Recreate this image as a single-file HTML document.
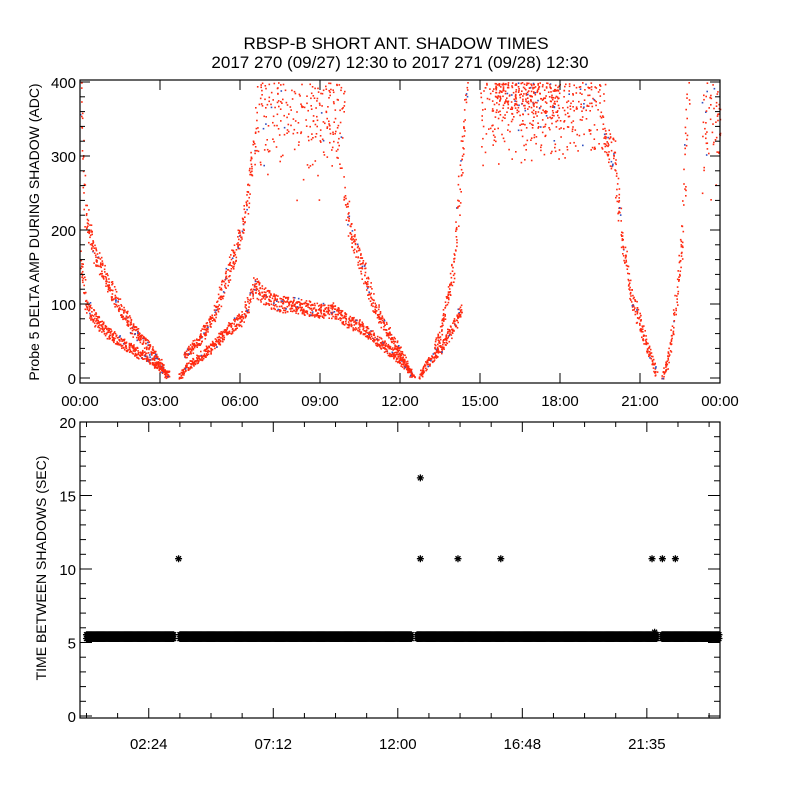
<!DOCTYPE html>
<html><head><meta charset="utf-8"><style>
body{margin:0;background:#fff;}
svg{display:block;font-family:"Liberation Sans",sans-serif;}
</style></head><body>
<svg id="c" width="800" height="800" viewBox="0 0 800 800">
<rect width="800" height="800" fill="#fff"/>
<text x="396" y="49" font-size="17" text-anchor="middle">RBSP-B SHORT ANT. SHADOW TIMES</text>
<text x="400" y="68" font-size="17" text-anchor="middle">2017 270 (09/27) 12:30 to 2017 271 (09/28) 12:30</text>
<g id="topPanel"></g>
<g id="botPanel"></g>
</svg>
<script>
// ---- top panel data: curve bands (hour, value)
const bandA_t=[0,0.2,0.5,1,1.5,2,2.5,3,3.3];
const bandA_v=[165,100,82,62,50,38,28,15,2];
const bandB_t=[0,0.1,0.2,0.5,1,1.5,2,2.5,3,3.3];
const bandB_v=[400,300,220,170,130,95,65,45,20,5];
const bandC_t=[3.7,4,4.5,5,5.5,6,6.3,6.5,7,7.5,8,8.5,9,9.5,10,10.5,11,11.5,12,12.3,12.5];
const bandC_v=[2,15,30,45,65,80,100,125,108,100,100,95,92,92,78,70,55,40,25,10,2];
const bandD_t=[3.9,4.5,5,5.5,6,6.3,6.6];
const bandD_v=[30,55,85,140,190,250,340];
const bandE_t=[9.9,10.2,10.5,11,11.5,12,12.4];
const bandE_v=[240,190,160,100,65,35,5];
const bandF_t=[12.7,13,13.5,14,14.3];
const bandF_v=[2,20,40,70,95];
const bandG_t=[13.3,13.6,14,14.2,14.5];
const bandG_v=[40,80,150,250,400];
const bandH_t=[19.6,20,20.3,20.6,21,21.3,21.6];
const bandH_v=[330,300,200,120,70,40,5];
const bandI_t=[21.8,22,22.2,22.4,22.6,22.8];
const bandI_v=[2,20,60,130,200,400];
// scatter clouds
const cloud_t0=[6.6,8.0,15.0,15.5,18.0,23.3];
const cloud_t1=[8.0,9.9,18.0,18.0,19.7,24.0];
const cloud_lo=[270,230,280,330,290,240];
const cloud_hi=[400,400,400,400,400,400];
const cloud_n=[90,150,220,200,130,60];
// ---- bottom panel data
const segStart=[0,3.6,12.74,22.18];
const segEnd=[3.4,12.55,21.99,24.4];
const baseValue=5.4;
const outT=[3.55,12.87,12.87,14.32,15.97,21.8,22.2,22.7,21.9];
const outV=[10.7,16.2,10.7,10.7,10.7,10.7,10.7,10.7,5.7];
const topTicks=["00:00","03:00","06:00","09:00","12:00","15:00","18:00","21:00","00:00"];
const topYTicks=[0,100,200,300,400];
const botXLabels=["02:24","07:12","12:00","16:48","21:35"];
const botXHours=[2.4,7.2,12.0,16.8,21.6];
const botYTicks=[0,5,10,15,20];

const NS="http://www.w3.org/2000/svg";
function mk(tag,at,p){const e=document.createElementNS(NS,tag);for(const k in at)e.setAttribute(k,at[k]);p.appendChild(e);return e;}
const topG=document.getElementById('topPanel'),botG=document.getElementById('botPanel');
const tx=h=>80+h/24*640, ty=v=>378-v/400*296;
const bx=h=>80+(h+0.25)/24.67*640, by=v=>716-v/20*294;
function hsh(i){const s=Math.sin(i*12.9898+78.233)*43758.5453;return s-Math.floor(s);}
function interp(ts,vs,t){for(let i=0;i<ts.length-1;i++){if(t>=ts[i]&&t<=ts[i+1]){const f=(t-ts[i])/(ts[i+1]-ts[i]);return vs[i]+f*(vs[i+1]-vs[i]);}}return null;}
let seed=1;
function dot(x,y,g){const c=hsh(seed++)<0.05?'#3050c0':'#ff2a10';
 const r=mk('rect',{x:x.toFixed(1),y:y.toFixed(1),width:1.6,height:1.6,fill:c},g);
 
 }
const pts=mk('g',{},topG);


[[bandA_t,bandA_v],[bandB_t,bandB_v],[bandC_t,bandC_v],[bandD_t,bandD_v],[bandE_t,bandE_v],[bandF_t,bandF_v],[bandG_t,bandG_v],[bandH_t,bandH_v],[bandI_t,bandI_v]].forEach(([ts,vs])=>{
 const t0=ts[0],t1=ts[ts.length-1];const n=Math.round((t1-t0)*120);
 for(let i=0;i<=n;i++){const t=t0+(t1-t0)*i/n;const v=interp(ts,vs,t);if(v==null)continue;
  const spread=4+v*0.07;const vv=Math.max(0,Math.min(400,v+(hsh(seed++)-0.5)*spread*2));
  dot(tx(t)+(hsh(seed++)-0.5)*3,ty(vv),pts);}
});
for(let k=0;k<cloud_t0.length;k++){for(let i=0;i<cloud_n[k];i++){
 const t=cloud_t0[k]+(cloud_t1[k]-cloud_t0[k])*hsh(seed++);
 const u=Math.sqrt(hsh(seed++));const v=cloud_lo[k]+(cloud_hi[k]-cloud_lo[k])*u;
 dot(tx(t),ty(v),pts);}}
const f1=mk('rect',{x:80,y:80,width:640,height:303,fill:'none',stroke:'#000','stroke-width':1.2},topG);

topTicks.forEach((l,i)=>{const x=80+i*80;
 mk('line',{x1:x,y1:383,x2:x,y2:373,stroke:'#000'},topG);mk('line',{x1:x,y1:80,x2:x,y2:90,stroke:'#000'},topG);
 const t=mk('text',{x:x,y:406,'font-size':15,'text-anchor':'middle'},topG);t.textContent=l;
 
 });
for(let v=0;v<=400;v+=20){const y=ty(v);const L=v%100==0?10:5;
 mk('line',{x1:80,y1:y,x2:80+L,y2:y,stroke:'#000'},topG);mk('line',{x1:720,y1:y,x2:720-L,y2:y,stroke:'#000'},topG);}
topYTicks.forEach(v=>{const t=mk('text',{x:76,y:ty(v)+6,'font-size':15,'text-anchor':'end'},topG);t.textContent=v;
 
 });
const yt=mk('text',{x:0,y:0,'font-size':14,'text-anchor':'middle',transform:'translate(39,232) rotate(-90)'},topG);
yt.textContent='Probe 5 DELTA AMP DURING SHADOW (ADC)';

const star=(x,y,g,s)=>mk('path',{d:`M${x-s},${y}H${x+s}M${x},${y-s}V${y+s}M${x-s*.7},${y-s*.7}L${x+s*.7},${y+s*.7}M${x-s*.7},${y+s*.7}L${x+s*.7},${y-s*.7}`,stroke:'#000','stroke-width':1.3,fill:'none'},g);
const bs=mk('g',{},botG);


for(let s=0;s<segStart.length;s++){for(let h=segStart[s];h<=segEnd[s];h+=0.04){
 [baseValue-0.13,baseValue+0.13].forEach(v=>{const p=star(bx(h),by(v),bs,3.5);
 
 });}}
outT.forEach((h,i)=>{const p=star(bx(h),by(outV[i]),bs,3.5);
 
 });
const f2=mk('rect',{x:80,y:422,width:640,height:296,fill:'none',stroke:'#000','stroke-width':1.2},botG);

for(let v=0;v<=20;v++){const y=by(v);const L=v%5==0?12:6;
 mk('line',{x1:80,y1:y,x2:80+L,y2:y,stroke:'#000'},botG);mk('line',{x1:720,y1:y,x2:720-L,y2:y,stroke:'#000'},botG);}
botYTicks.forEach(v=>{const t=mk('text',{x:76,y:by(v)+6,'font-size':15,'text-anchor':'end'},botG);t.textContent=v;
 
 });
for(let h=0;h<=24.4;h+=1.2){const x=bx(h);const L=(Math.round(h/1.2)%4==2)?10:5;
 mk('line',{x1:x,y1:718,x2:x,y2:718-L,stroke:'#000'},botG);mk('line',{x1:x,y1:422,x2:x,y2:422+L,stroke:'#000'},botG);}
botXLabels.forEach((l,i)=>{const t=mk('text',{x:bx(botXHours[i]),y:749,'font-size':15,'text-anchor':'middle'},botG);t.textContent=l;
 
 });
const yb=mk('text',{x:0,y:0,'font-size':14,'text-anchor':'middle',transform:'translate(46,568) rotate(-90)'},botG);
yb.textContent='TIME BETWEEN SHADOWS (SEC)';

</script>
</body></html>
